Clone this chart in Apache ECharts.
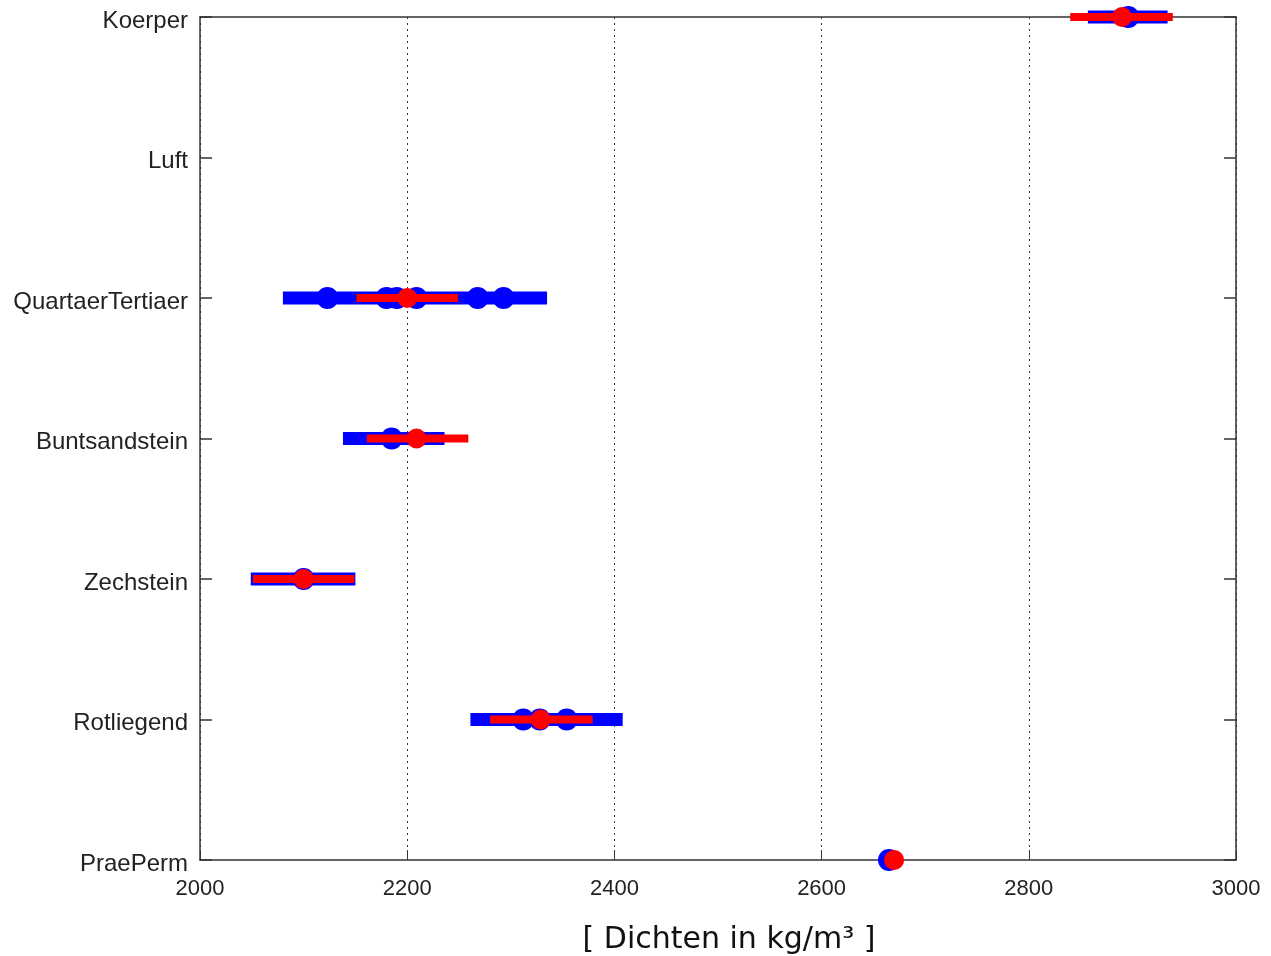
<!DOCTYPE html>
<html>
<head>
<meta charset="utf-8">
<script src="https://cdn.jsdelivr.net/npm/echarts@6/dist/echarts.min.js"></script>
<style>
  html, body { margin: 0; padding: 0; background: #fff; }
  #chart { width: 1271px; height: 956px; }
</style>
</head>
<body>
<div id="chart"></div>
<script>
const categories = ['PraePerm', 'Rotliegend', 'Zechstein', 'Buntsandstein', 'QuartaerTertiaer', 'Luft', 'Koerper'];
const xTicks = [2000, 2200, 2400, 2600, 2800, 3000];

// blue: range of single measurements [min, max, category]
const rangeBlue = [
  [2261, 2408, 'Rotliegend'],
  [2049, 2150, 'Zechstein'],
  [2138, 2236, 'Buntsandstein'],
  [2080, 2335, 'QuartaerTertiaer'],
  [2857, 2934, 'Koerper'],
];
// blue: single measurements
const pointsBlue = [
  [2665, 'PraePerm'],
  [2312, 'Rotliegend'], [2328, 'Rotliegend'], [2354, 'Rotliegend'],
  [2100, 'Zechstein'],
  [2185, 'Buntsandstein'],
  [2123, 'QuartaerTertiaer'], [2180, 'QuartaerTertiaer'], [2190, 'QuartaerTertiaer'],
  [2209, 'QuartaerTertiaer'], [2268, 'QuartaerTertiaer'], [2293, 'QuartaerTertiaer'],
  [2896, 'Koerper'],
];
// red: spread around the mean [low, high, category]
const rangeRed = [
  [2280, 2379, 'Rotliegend'],
  [2051, 2149, 'Zechstein'],
  [2161, 2259, 'Buntsandstein'],
  [2151, 2249, 'QuartaerTertiaer'],
  [2840, 2939, 'Koerper'],
];
// red: mean value
const meanRed = [
  [2670, 'PraePerm'],
  [2329, 'Rotliegend'],
  [2100, 'Zechstein'],
  [2209, 'Buntsandstein'],
  [2200, 'QuartaerTertiaer'],
  [2890, 'Koerper'],
];

const labelFont = 'Liberation Sans, Arial, sans-serif';

function barRenderer(color, thickness) {
  return function (params, api) {
    const cat = api.value(2);
    const a = api.coord([api.value(0), cat]);
    const b = api.coord([api.value(1), cat]);
    return {
      type: 'rect',
      shape: { x: a[0], y: a[1] - thickness / 2, width: b[0] - a[0], height: thickness },
      style: { fill: color },
    };
  };
}

const chart = echarts.init(document.getElementById('chart'));
chart.setOption({
  animation: false,
  backgroundColor: '#fff',
  grid: { left: 200, top: 17, width: 1036, height: 843, outerBoundsMode: 'none', containLabel: false },
  xAxis: [
    {
      type: 'value',
      min: 2000,
      max: 3000,
      interval: 200,
      position: 'bottom',
      name: '[ Dichten in kg/m³ ]',
      nameLocation: 'middle',
      nameGap: 65,
      nameTextStyle: { fontFamily: 'DejaVu Sans, sans-serif', fontSize: 30, color: '#111', padding: [0, 0, 0, 22] },
      axisLine: { show: true, lineStyle: { color: '#333', width: 1.5 } },
      axisTick: { show: true, inside: true, length: 10, lineStyle: { color: '#333' } },
      axisLabel: { fontFamily: labelFont, fontSize: 22, color: '#222', margin: 18,
        formatter: v => (xTicks.includes(v) ? String(v) : '') },
      splitLine: { show: true, lineStyle: { color: '#333', type: [2, 4], width: 1 } },
    },
    {
      type: 'value',
      min: 2000,
      max: 3000,
      interval: 200,
      position: 'top',
      axisLine: { show: true, lineStyle: { color: '#333', width: 1.5 } },
      axisTick: { show: false },
      axisLabel: { show: false },
      splitLine: { show: false },
    },
  ],
  yAxis: [
    {
      type: 'category',
      data: categories,
      boundaryGap: false,
      position: 'left',
      axisLine: { show: true, lineStyle: { color: '#333', width: 1.5 } },
      axisTick: { show: true, inside: true, length: 12, lineStyle: { color: '#333', width: 1.5 } },
      axisLabel: {
        fontFamily: labelFont, fontSize: 24, color: '#222', margin: 12,
        formatter: v => '{n|' + v + '}',
        rich: { n: { fontFamily: labelFont, fontSize: 24, color: '#222', padding: [8, 0, 0, 0] } },
      },
      splitLine: { show: false },
    },
    {
      type: 'category',
      data: categories,
      boundaryGap: false,
      position: 'right',
      axisLine: { show: true, lineStyle: { color: '#333', width: 1.5 } },
      axisTick: { show: true, inside: true, length: 12, lineStyle: { color: '#333', width: 1.5 } },
      axisLabel: { show: false },
      splitLine: { show: false },
    },
  ],
  series: [
    {
      type: 'custom',
      renderItem: barRenderer('#0000ff', 13),
      encode: { x: [0, 1], y: 2 },
      data: rangeBlue,
      z: 2,
    },
    {
      type: 'scatter',
      data: pointsBlue,
      symbol: 'circle',
      symbolSize: 22,
      itemStyle: { color: '#0000ff', opacity: 1 },
      z: 3,
    },
    {
      type: 'custom',
      renderItem: barRenderer('#ff0000', 8),
      encode: { x: [0, 1], y: 2 },
      data: rangeRed,
      z: 4,
    },
    {
      type: 'scatter',
      data: meanRed,
      symbol: 'circle',
      symbolSize: 20,
      itemStyle: { color: '#ff0000', opacity: 1 },
      z: 5,
    },
  ],
});
</script>
</body>
</html>
